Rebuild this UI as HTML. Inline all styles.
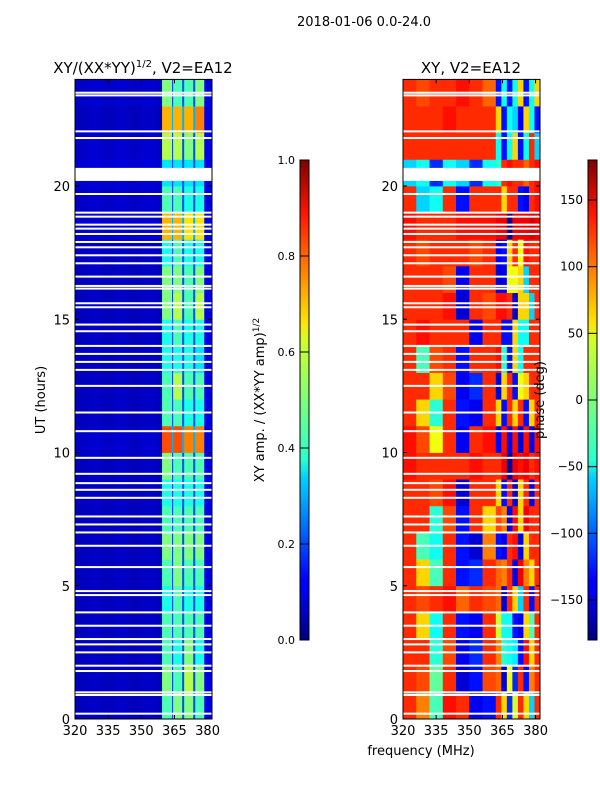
<!DOCTYPE html>
<html><head><meta charset="utf-8"><style>
html,body{margin:0;padding:0;background:#fff}
svg text{font-family:"DejaVu Sans","Liberation Sans",sans-serif;fill:#000}
</style></head><body>
<svg id="fig" width="600" height="800" viewBox="0 0 600 800" xmlns="http://www.w3.org/2000/svg">
<defs>
<linearGradient id="jet" x1="0" y1="1" x2="0" y2="0">
<stop offset="0" stop-color="#00007f"/><stop offset="0.11" stop-color="#0000ff"/><stop offset="0.125" stop-color="#0000ff"/>
<stop offset="0.34" stop-color="#00d4ff"/><stop offset="0.375" stop-color="#29ffce"/><stop offset="0.5" stop-color="#7dff7a"/>
<stop offset="0.625" stop-color="#ceff29"/><stop offset="0.66" stop-color="#ffe500"/><stop offset="0.89" stop-color="#ff1400"/>
<stop offset="1" stop-color="#7f0000"/>
</linearGradient>
</defs>
<text x="364" y="26" font-size="13" text-anchor="middle">2018-01-06 0.0-24.0</text>
<g id="left"></g>
<g id="right"></g>
<text x="143" y="73" font-size="15" text-anchor="middle">XY/(XX*YY)<tspan font-size="10" dy="-6">1/2</tspan><tspan dy="6">, V2=EA12</tspan></text>
<text x="471" y="73" font-size="15" text-anchor="middle">XY, V2=EA12</text>
<text transform="translate(45,400) rotate(-90)" font-size="13" text-anchor="middle">UT (hours)</text>
<text x="421" y="755" font-size="13" text-anchor="middle">frequency (MHz)</text>
<text transform="translate(264,400) rotate(-90)" font-size="13" text-anchor="middle">XY amp. / (XX*YY amp)<tspan font-size="9" dy="-5">1/2</tspan></text>
<text transform="translate(544,400) rotate(-90)" font-size="13" text-anchor="middle">phase (deg)</text>
<g id="cb1"></g>
<g id="cb2"></g>
</svg>
<script>
// ---- data ----
const ampEdges = [320,326,332,338,344,350,356,359.4,363.9,364.4,368.5,369.4,373.5,374.4,378.5,382];
const phaseEdges = [320,326,332,338,344,350,356,362,364.5,367,369.5,372,374.5,377,379.5,382];
const hours = [0,1,2,3,4,5,6,7,8,9,10,11,12,13,14,15,16,17,18,19,20,21,22,23];
const ampBase = [0.06,0.06,0.06,0.06,0.06,0.06,0.06,0.06,0.06,0.06,0.07,0.06,0.06,0.06,0.06,0.06,0.06,0.06,0.08,0.07,0.08,0.07,0.06,0.07];
// strip / gap columns 359.4..382 (strip,gap,strip,gap,strip,gap,strip,edge) per hour
const ampStrips = [
[0.45,0.2,0.5,0.2,0.5,0.2,0.45,0.1],
[0.5,0.2,0.45,0.2,0.55,0.2,0.5,0.1],
[0.45,0.2,0.4,0.2,0.5,0.2,0.4,0.1],
[0.45,0.2,0.45,0.2,0.45,0.2,0.45,0.1],
[0.4,0.2,0.45,0.2,0.4,0.2,0.4,0.1],
[0.45,0.2,0.5,0.2,0.45,0.2,0.45,0.1],
[0.5,0.2,0.5,0.2,0.5,0.2,0.5,0.1],
[0.45,0.2,0.45,0.2,0.45,0.2,0.45,0.1],
[0.4,0.2,0.4,0.2,0.4,0.2,0.4,0.1],
[0.5,0.2,0.45,0.2,0.45,0.2,0.45,0.1],
[0.8,0.3,0.8,0.3,0.75,0.3,0.75,0.1],
[0.45,0.2,0.45,0.2,0.4,0.2,0.4,0.1],
[0.45,0.2,0.55,0.2,0.45,0.2,0.45,0.1],
[0.4,0.2,0.4,0.2,0.4,0.2,0.35,0.1],
[0.4,0.2,0.45,0.2,0.4,0.2,0.4,0.1],
[0.5,0.2,0.55,0.2,0.45,0.2,0.55,0.1],
[0.5,0.2,0.5,0.2,0.45,0.2,0.5,0.1],
[0.4,0.2,0.45,0.2,0.4,0.2,0.4,0.1],
[0.7,0.3,0.7,0.3,0.65,0.3,0.65,0.1],
[0.45,0.2,0.45,0.2,0.4,0.2,0.4,0.1],
[0.35,0.2,0.35,0.2,0.35,0.2,0.35,0.1],
[0.55,0.2,0.55,0.2,0.5,0.2,0.55,0.1],
[0.7,0.3,0.7,0.3,0.7,0.3,0.75,0.1],
[0.5,0.2,0.45,0.2,0.45,0.2,0.5,0.1]];
// phase (deg) per hour, 15 freq bins
const phase = [
[120,90,-20,130,120,-140,-130,120,60,-120,30,120,60,-60,120],
[120,110,-10,120,-150,-130,110,100,-150,40,-120,120,-130,90,120],
[120,120,-30,110,-140,-120,120,90,-30,-40,-50,-130,130,60,120],
[120,60,-40,120,-130,-140,120,30,-40,-40,-130,-140,60,-20,120],
[120,110,120,130,100,120,110,100,-150,120,60,-60,120,-130,120],
[120,60,-20,120,-130,-120,120,100,90,120,-140,140,90,60,120],
[120,-20,-40,120,-130,-150,90,-130,-140,120,130,-150,60,120,120],
[120,120,-30,110,-130,120,60,110,90,-140,130,60,140,120,120],
[120,120,110,130,-150,120,120,60,-130,120,-150,60,120,-140,120],
[130,120,120,120,120,130,120,120,140,-170,140,130,140,120,130],
[130,110,40,120,-140,120,130,-140,130,-140,130,-150,130,-140,130],
[120,60,-30,120,-130,-140,120,60,-130,120,60,120,-130,60,120],
[120,120,60,110,-140,-120,120,-150,60,120,-130,40,60,120,120],
[120,-20,110,120,-130,120,120,130,-30,-130,60,-40,120,120,120],
[120,130,120,120,120,-140,120,120,-130,-130,60,-40,-40,120,120],
[120,120,120,130,-150,120,110,130,130,120,-150,60,60,-60,120],
[120,120,120,110,-140,120,120,-150,-140,40,40,60,-60,120,120],
[120,110,120,120,120,110,120,-140,-130,60,120,40,130,120,120],
[130,120,120,120,130,130,130,140,140,-170,140,140,140,150,140],
[120,-60,-40,120,-130,120,120,120,60,120,120,-130,-140,120,130],
[-60,-40,-120,-40,-60,-120,-40,-30,120,130,120,120,100,120,130],
[120,120,120,120,120,120,120,-40,-130,-40,60,-130,-40,120,-60],
[120,120,120,130,120,120,120,60,-130,-40,-60,-140,60,-40,-130],
[120,110,120,120,130,120,100,-130,-40,-130,-40,60,-130,-40,60]];
const flagged = [0.2,0.9,1.0,1.8,2.0,2.5,2.8,3.0,3.5,4.0,4.65,4.8,5.7,6.5,7.0,7.3,7.6,8.3,8.6,8.85,9.2,9.8,10.8,11.5,12.5,13.1,13.4,13.7,14.0,14.55,14.8,15.45,15.6,16.15,16.25,16.6,17.1,17.4,17.7,17.9,18.2,18.4,18.55,18.85,19.0,19.7,21.8,22.05,23.4,23.5];
const flaggedBlocks = [[20.19,20.68]];
const xTicks = [320,335,350,365,380];
const yTicks = [0,5,10,15,20];
const ampTicks = [0.0,0.2,0.4,0.6,0.8,1.0];
const phaseTicks = [-150,-100,-50,0,50,100,150];
// ---- helpers ----
const NS='http://www.w3.org/2000/svg';
function mk(tag,attrs,parent){const e=document.createElementNS(NS,tag);for(const k in attrs)e.setAttribute(k,attrs[k]);parent.appendChild(e);return e;}
function jet(v){v=Math.max(0,Math.min(1,v));
 const r=Math.min(4*v-1.5,-4*v+4.5),g=Math.min(4*v-0.5,-4*v+3.5),b=Math.min(4*v+0.5,-4*v+2.5);
 const c=x=>Math.round(255*Math.max(0,Math.min(1,x)));return `rgb(${c(r)},${c(g)},${c(b)})`;}
const T0=79.4,T1=719;
const yS=t=>T1-(t/24)*(T1-T0);
function panel(gid,x0,x1,edges,valueFn){
 const g=document.getElementById(gid);
 const xS=f=>x0+(f-320)/(382-320)*(x1-x0);
 for(let i=0;i<hours.length;i++){
  for(let j=0;j<edges.length-1;j++){
   const r=mk('rect',{x:xS(edges[j]),y:yS(hours[i]+1),width:xS(edges[j+1])-xS(edges[j])+0.4,height:yS(hours[i])-yS(hours[i]+1)+0.4,fill:valueFn(i,j)},g);
   
   
  }
 }
 flagged.forEach(t=>{const r=mk('rect',{x:x0,y:yS(t)-1,width:x1-x0,height:2,fill:'#fff'},g);
  });
 flaggedBlocks.forEach(b=>{const r=mk('rect',{x:x0,y:yS(b[1]),width:x1-x0,height:yS(b[0])-yS(b[1]),fill:'#fff'},g);
  });
 const fr=mk('rect',{x:x0,y:T0,width:x1-x0,height:T1-T0,fill:'none',stroke:'#000','stroke-width':1},g);
 
 xTicks.forEach(f=>{const x=xS(f);
  mk('line',{x1:x,x2:x,y1:T1,y2:T1-4,stroke:'#000'},g);mk('line',{x1:x,x2:x,y1:T0,y2:T0+4,stroke:'#000'},g);
  const t=mk('text',{x:x,y:T1+16,'font-size':13,'text-anchor':'middle'},g);t.textContent=f;
  });
 yTicks.forEach(v=>{const y=yS(v);
  mk('line',{x1:x0,x2:x0+4,y1:y,y2:y,stroke:'#000'},g);mk('line',{x1:x1,x2:x1-4,y1:y,y2:y,stroke:'#000'},g);
  const t=mk('text',{x:x0-5,y:y+5,'font-size':13,'text-anchor':'end'},g);t.textContent=v;
  });
}
panel('left',75,212,ampEdges,(i,j)=>{const v=(j<7)?ampBase[i]+0.01*(j%2):ampStrips[i][j-7];return jet(v);});
panel('right',403,540,phaseEdges,(i,j)=>jet((phase[i][j]+180)/360));
function colorbar(gid,x,ticks,lo,hi,big,fmt){
 const g=document.getElementById(gid);const top=160,bot=640;
 const r=mk('rect',{x:x,y:top,width:9,height:bot-top,fill:'url(#jet)',stroke:'#000','stroke-width':1},g);
 
 ticks.forEach(v=>{const y=bot-(v-lo)/(hi-lo)*(bot-top);
  mk('line',{x1:x,x2:x+9,y1:y,y2:y,stroke:'#000'},g);
  const t=mk('text',{x:x-5,y:y+4,'font-size':big?12:11,'text-anchor':'end'},g);
  t.textContent=fmt(v);});
}
colorbar('cb1',300,ampTicks,0,1,false,v=>v.toFixed(1));
colorbar('cb2',588,phaseTicks,-180,180,true,v=>v<0?'\u2212'+Math.abs(v):String(v));
</script>
</body></html>
